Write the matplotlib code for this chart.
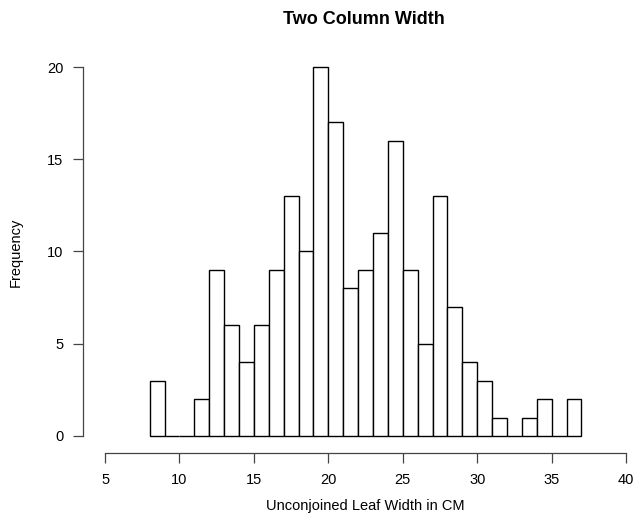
import numpy as np
import matplotlib
matplotlib.use("Agg")
import matplotlib.pyplot as plt

plt.rcParams['font.family'] = ['Liberation Sans', 'DejaVu Sans']

# histogram of leaf widths, 1 cm bins from 8 to 37
bin_edges = np.arange(8, 38, 1)
counts = [3, 0, 0, 2, 9, 6, 4, 6, 9, 13, 10, 20, 17, 8, 9, 11, 16, 9, 5, 13,
          7, 4, 3, 1, 0, 1, 2, 0, 2]
x_ticks = [5, 10, 15, 20, 25, 30, 35, 40]
y_ticks = [0, 5, 10, 15, 20]

W, H = 635, 513
fig = plt.figure(figsize=(W / 100, H / 100), dpi=100)
# axes box in pixels: left 90, right 632, top 60, bottom 445
ax = fig.add_axes([90 / W, 1 - 445 / H, (632 - 90) / W, (445 - 60) / H])

ax.bar(bin_edges[:-1], counts, width=1, align='edge',
       facecolor='white', edgecolor='black', linewidth=1.0)

ax.set_xlim(3.99, 40.40)
ax.set_ylim(-0.49, 20.38)

for s in ['top', 'right']:
    ax.spines[s].set_visible(False)
ax.spines['left'].set_position(('outward', 5.0))
ax.spines['bottom'].set_position(('outward', 5.8))
ax.spines['left'].set_bounds(0, 20)
ax.spines['bottom'].set_bounds(5, 40)
for s in ['left', 'bottom']:
    ax.spines[s].set_color('#444444')
    ax.spines[s].set_linewidth(0.9)

ax.set_xticks(x_ticks)
ax.set_yticks(y_ticks)
ax.tick_params(axis='both', length=7.5, width=0.9, color='#444444',
               labelsize=10.5, pad=6.5)

# R-style titles placed in figure pixels
fig.text(364 / W, 1 - 20 / H, 'Two Column Width', fontsize=13,
         fontweight='bold', ha='center', va='center')
fig.text(365 / W, 1 - 506 / H, 'Unconjoined Leaf Width in CM',
         fontsize=10.5, ha='center', va='center')
fig.text(16 / W, 1 - 252 / H, 'Frequency', fontsize=10.5,
         rotation=90, ha='center', va='center')

fig.savefig('out.png', dpi=100)
